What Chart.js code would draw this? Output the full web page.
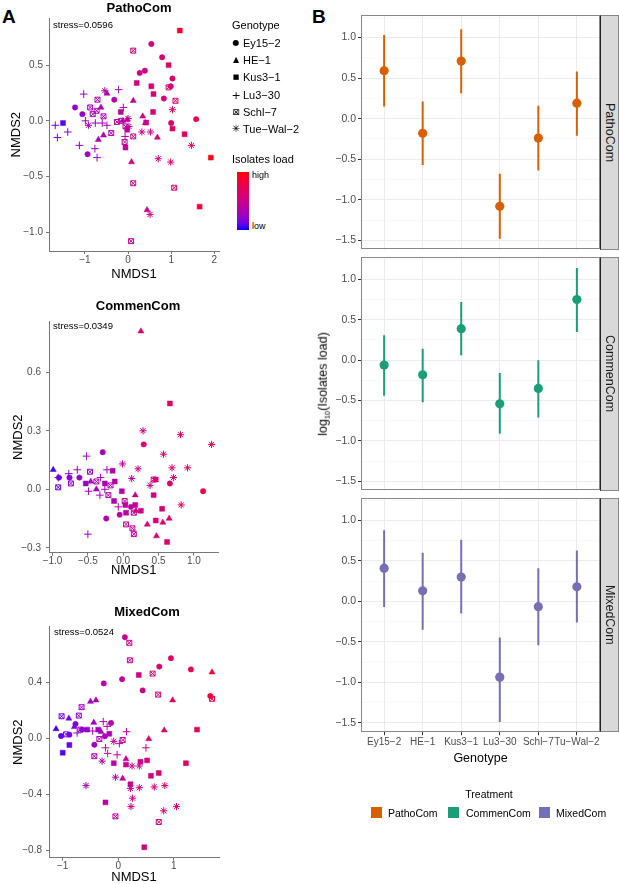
<!DOCTYPE html>
<html>
<head>
<meta charset="utf-8">
<script src="https://cdn.jsdelivr.net/npm/chart.js@4.4.1/dist/chart.umd.min.js"></script>
<style>
  body { margin: 0; background: #fff; }
  #page { position: relative; width: 619px; height: 884px; overflow: hidden; background: #fff;
          font-family: "Liberation Sans", Arial, sans-serif; color: #000; }
  canvas { position: absolute; }
  .t { position: absolute; white-space: nowrap; line-height: 1; }
  .c { transform: translate(-50%, -50%); }
  .l { transform: translateY(-50%); }
  .strip { position: absolute; left: 600px; width: 19px; box-sizing: border-box; background: #d9d9d9;
           border: 1px solid #888; border-left: 1px solid #222; writing-mode: vertical-rl;
           text-align: center; line-height: 17px; font-size: 12.5px; color: #1a1a1a; }
  .sym { position: absolute; transform: translate(-50%, -50%); line-height: 1; font-family: "DejaVu Sans", sans-serif; }
  .sw { position: absolute; width: 11px; height: 11px; }
</style>
</head>
<body>
<div id="page">
  <div class="t" style="left:2px;top:7px;font-size:19px;font-weight:bold">A</div>
  <div class="t" style="left:312px;top:7px;font-size:19px;font-weight:bold">B</div>

  <!-- panel A -->
  <canvas id="patho" width="230" height="290" style="left:0;top:0"></canvas>
  <canvas id="commen" width="230" height="300" style="left:0;top:290px"></canvas>
  <canvas id="mixed" width="230" height="300" style="left:0;top:590px"></canvas>

  <div class="t c" style="left:139px;top:7px;font-size:13px;font-weight:bold">PathoCom</div>
  <div class="t c" style="left:138px;top:305px;font-size:13px;font-weight:bold">CommenCom</div>
  <div class="t c" style="left:147px;top:611px;font-size:13px;font-weight:bold">MixedCom</div>

  <div class="t l" style="left:53px;top:25px;font-size:9.5px">stress=0.0596</div>
  <div class="t l" style="left:53px;top:326px;font-size:9.5px">stress=0.0349</div>
  <div class="t l" style="left:54px;top:632px;font-size:9.5px">stress=0.0524</div>

  <div class="t l" style="left:232px;top:25px;font-size:11px">Genotype</div>
  <div class="sym" style="left:236px;top:43px;font-size:8px">●</div>
  <div class="sym" style="left:236px;top:60px;font-size:8px">▲</div>
  <div class="sym" style="left:236px;top:77px;font-size:7px">■</div>
  <div class="sym" style="left:236px;top:95px;font-size:11px">+</div>
  <div class="sym" style="left:236px;top:112px;font-size:9px">⊠</div>
  <div class="sym" style="left:236px;top:129px;font-size:10px">✳</div>
  <div class="t l" style="left:243px;top:43px;font-size:11px">Ey15−2</div>
  <div class="t l" style="left:243px;top:60px;font-size:11px">HE−1</div>
  <div class="t l" style="left:243px;top:77px;font-size:11px">Kus3−1</div>
  <div class="t l" style="left:243px;top:95px;font-size:11px">Lu3−30</div>
  <div class="t l" style="left:243px;top:112px;font-size:11px">Schl−7</div>
  <div class="t l" style="left:243px;top:129px;font-size:11px">Tue−Wal−2</div>

  <div class="t l" style="left:232px;top:159px;font-size:11px">Isolates load</div>
  <div id="cbar" style="position:absolute;left:237px;top:172px;width:12px;height:58px"></div>
  <div class="t l" style="left:252px;top:175px;font-size:9px">high</div>
  <div class="t l" style="left:252px;top:226px;font-size:9px">low</div>

  <!-- panel B -->
  <canvas id="bPatho" width="299" height="251" style="left:320px;top:7px"></canvas>
  <canvas id="bCommen" width="299" height="250" style="left:320px;top:249px"></canvas>
  <canvas id="bMixed" width="299" height="278" style="left:320px;top:490px"></canvas>

  <div class="strip" style="top:15px;height:235px">PathoCom</div>
  <div class="strip" style="top:257px;height:234px">CommenCom</div>
  <div class="strip" style="top:498px;height:234px">MixedCom</div>

  <div class="t" style="left:322.5px;top:384px;transform:translate(-50%,-50%) rotate(-90deg);font-size:12.5px">log<span style="font-size:7.5px;position:relative;top:3px">10</span>(Isolates load)</div>

  <div class="t c" style="left:489px;top:794px;font-size:10.5px">Treatment</div>
  <div class="sw" style="left:371px;top:807px;background:#d95f02"></div>
  <div class="t l" style="left:388px;top:812.5px;font-size:10.5px">PathoCom</div>
  <div class="sw" style="left:448px;top:807px;background:#1b9e77"></div>
  <div class="t l" style="left:466px;top:812.5px;font-size:10.5px">CommenCom</div>
  <div class="sw" style="left:539px;top:807px;background:#7570b3"></div>
  <div class="t l" style="left:556px;top:812.5px;font-size:10.5px">MixedCom</div>
</div>

<script>
// ---- panel A data: [NMDS1, NMDS2, isolates load 0..1] ----
const pathoEy = [[0.54,0.69,0.55],[0.79,0.57,0.6],[0.27,0.43,0.5],[0.39,0.45,0.52],[1.03,0.38,0.62],[0.99,0.31,0.6],[0.83,0.20,0.6],[-0.32,0.19,0.35],[-1.23,0.12,0.22],[-1.06,0.06,0.25],[1.0,-0.02,0.62],[1.58,0.015,0.72],[-0.94,-0.30,0.28]];
const pathoHe = [[-0.49,0.245,0.33],[-0.63,0.12,0.32],[0.12,0.18,0.42],[0.34,0.04,0.48],[0.40,-0.02,0.48],[-0.12,0.0,0.38],[-0.02,0.01,0.38],[-0.57,-0.13,0.32],[-0.69,-0.17,0.3],[0.68,-0.15,0.55],[0.08,-0.37,0.5],[0.44,-0.80,0.5]];
const pathoKus = [[1.20,0.81,0.88],[0.94,0.50,0.68],[0.20,0.34,0.52],[0.54,0.31,0.58],[0.59,0.24,0.6],[0.58,0.08,0.6],[-0.17,0.08,0.42],[1.03,-0.07,0.68],[1.31,-0.12,0.7],[-0.06,-0.24,0.45],[1.92,-0.33,0.95],[1.66,-0.77,0.85],[-1.51,-0.02,0.08],[0.42,-0.015,0.52],[-0.02,-0.08,0.42]];
const pathoLu = [[-1.03,0.24,0.25],[-0.22,0.28,0.3],[-1.69,-0.04,0.12],[-1.64,-0.15,0.12],[-1.40,-0.10,0.16],[-1.13,-0.22,0.2],[-0.99,0.0,0.22],[-0.76,-0.02,0.25],[-0.60,-0.02,0.27],[-0.49,-0.04,0.28],[-0.11,0.12,0.32],[-0.77,-0.25,0.25],[-0.72,-0.33,0.25],[-0.07,-0.14,0.32]];
const pathoSchl = [[0.12,0.63,0.5],[-0.71,0.19,0.32],[-0.88,0.12,0.3],[-0.82,0.06,0.3],[-0.73,0.09,0.32],[-0.57,0.04,0.33],[-0.39,-0.11,0.35],[-0.26,-0.01,0.38],[-0.16,0.0,0.38],[-0.06,-0.05,0.4],[-0.08,-0.19,0.42],[0.12,-0.14,0.45],[1.10,0.18,0.65],[0.12,-0.56,0.5],[1.07,-0.60,0.6],[0.07,-1.08,0.5],[0.94,0.30,0.62]];
const pathoTue = [[-0.54,0.27,0.33],[-0.92,-0.04,0.28],[0.0,0.02,0.42],[0.02,-0.05,0.42],[0.32,-0.10,0.48],[0.52,-0.10,0.5],[1.03,0.10,0.62],[0.70,-0.34,0.55],[0.99,-0.37,0.6],[1.47,-0.22,0.7],[0.51,-0.84,0.52]];

const commEy = [[-0.29,0.19,0.3],[0.29,0.23,0.6],[-0.91,0.06,0.1],[-0.76,0.06,0.18],[-0.62,0.06,0.22],[0.66,0.03,0.62],[1.13,-0.01,0.78],[-0.24,-0.15,0.35],[-0.05,-0.13,0.38],[0.11,-0.09,0.42]];
const commHe = [[0.25,0.81,0.6],[-0.99,0.10,0.04],[-0.46,0.04,0.3],[-0.38,0.0,0.32],[0.17,-0.03,0.48],[0.18,-0.11,0.5],[0.34,-0.18,0.55],[0.65,-0.15,0.62],[0.56,-0.17,0.6],[0.47,-0.24,0.6]];
const commKus = [[0.66,0.44,0.68],[-0.15,0.095,0.35],[-0.12,0.04,0.36],[-0.53,0.03,0.25],[-0.26,0.03,0.32],[-0.02,-0.01,0.38],[-0.13,-0.06,0.36],[0.03,-0.08,0.42],[0.17,-0.08,0.46],[0.25,-0.11,0.5],[0.04,-0.12,0.42],[0.43,-0.03,0.55],[0.46,0.05,0.58],[0.55,-0.10,0.6],[0.46,-0.16,0.6],[0.62,-0.27,0.65]];
const commLu = [[-0.52,0.17,0.25],[-0.65,0.10,0.2],[-0.77,0.08,0.16],[-0.92,0.06,0.12],[-0.23,0.10,0.32],[-0.32,0.06,0.3],[-0.49,-0.01,0.25],[-0.33,-0.03,0.3],[-0.26,0.0,0.32],[-0.07,-0.09,0.38],[-0.50,-0.23,0.25]];
const commSchl = [[-0.92,0.01,0.1],[-0.74,0.03,0.16],[-0.47,0.09,0.25],[-0.38,0.04,0.3],[-0.18,0.02,0.34],[-0.21,-0.03,0.34],[0.02,-0.06,0.4],[0.15,-0.12,0.44],[0.04,-0.18,0.42],[0.13,-0.20,0.44],[0.15,-0.23,0.44],[0.43,0.05,0.56]];
const commTue = [[0.28,0.30,0.52],[0.81,0.28,0.66],[1.25,0.23,0.78],[0.57,0.18,0.6],[0.69,0.11,0.62],[0.91,0.11,0.68],[0.71,0.06,0.64],[-0.01,0.13,0.42],[0.21,0.105,0.48],[0.12,0.055,0.46],[0.38,0.02,0.52],[0.82,-0.08,0.66]];

const mixEy = [[0.12,0.72,0.45],[0.95,0.57,0.66],[0.74,0.51,0.6],[1.31,0.49,0.72],[0.07,0.42,0.45],[-0.26,0.39,0.38],[0.44,0.34,0.52],[1.66,0.30,0.82],[-1.03,0.014,0.08],[-0.88,0.024,0.12],[-0.77,0.10,0.16],[-0.13,0.107,0.33],[-0.24,0.012,0.32],[-0.43,-0.048,0.27],[-0.65,0.06,0.2]];
const mixHe = [[1.69,0.47,0.85],[0.98,0.27,0.68],[-0.50,0.26,0.27],[-0.40,0.27,0.3],[-1.12,0.064,0.04],[-0.89,0.14,0.12],[-0.79,0.08,0.16],[-0.44,0.11,0.25],[-0.31,0.045,0.3],[0.55,-0.007,0.58],[0.83,0.055,0.64],[0.14,-0.15,0.46],[0.08,-0.29,0.46]];
const mixKus = [[0.37,0.45,0.55],[1.42,0.06,0.76],[-1.0,-0.105,0.06],[-0.88,-0.05,0.1],[-0.56,0.06,0.23],[-0.36,0.06,0.27],[-0.16,0.03,0.33],[-0.08,-0.18,0.38],[0.14,-0.19,0.46],[0.40,-0.17,0.52],[0.52,-0.16,0.55],[0.59,-0.27,0.58],[0.73,-0.25,0.6],[1.22,-0.18,0.7],[0.22,-0.33,0.48],[-0.23,-0.46,0.38],[0.47,-0.78,0.55]];
const mixLu = [[-0.27,0.117,0.32],[-0.20,0.083,0.33],[-0.74,0.036,0.23],[-0.46,0.05,0.28],[0.15,0.045,0.44],[0.02,-0.04,0.42],[-0.23,-0.07,0.38],[-0.19,-0.11,0.38],[-0.02,-0.12,0.4],[0.50,-0.07,0.5]];
const mixSchl = [[0.20,0.68,0.48],[0.21,0.555,0.48],[0.62,0.46,0.55],[0.72,0.31,0.58],[1.69,0.28,0.82],[-0.66,0.22,0.25],[-1.02,0.155,0.12],[-0.94,0.026,0.15],[-0.71,0.16,0.23],[-0.68,0.06,0.25],[-0.34,-0.007,0.33],[-0.43,-0.13,0.32],[0.08,-0.014,0.42],[-0.05,-0.56,0.42],[0.73,-0.60,0.58]];
const mixTue = [[-0.08,-0.024,0.4],[-0.29,-0.165,0.35],[0.25,-0.2,0.48],[0.38,-0.2,0.5],[-0.58,-0.34,0.32],[-0.05,-0.28,0.42],[0.22,-0.36,0.48],[0.38,-0.355,0.5],[0.65,-0.35,0.55],[0.84,-0.34,0.58],[0.26,-0.43,0.48],[0.23,-0.49,0.48],[1.05,-0.49,0.62],[0.82,-0.52,0.58]];

// tick values and labels
const pathoXTicks = [-1, 0, 1, 2],        pathoXLabels = ['−1', '0', '1', '2'];
const pathoYTicks = [-1, -0.5, 0, 0.5],   pathoYLabels = ['−1.0', '−0.5', '0.0', '0.5'];
const commXTicks = [-1, -0.5, 0, 0.5, 1], commXLabels = ['−1.0', '−0.5', '0.0', '0.5', '1.0'];
const commYTicks = [-0.3, 0, 0.3, 0.6],   commYLabels = ['−0.3', '0.0', '0.3', '0.6'];
const mixXTicks = [-1, 0, 1],             mixXLabels = ['−1', '0', '1'];
const mixYTicks = [-0.8, -0.4, 0, 0.4],   mixYLabels = ['−0.8', '−0.4', '0.0', '0.4'];

// ---- panel B data ----
const genotypes = ['Ey15−2', 'HE−1', 'Kus3−1', 'Lu3−30', 'Schl−7', 'Tu−Wal−2'];
const pathoMean = [0.59, -0.18, 0.71, -1.08, -0.24, 0.19];
const pathoLow  = [0.15, -0.57, 0.31, -1.48, -0.64, -0.21];
const pathoHigh = [1.03, 0.21, 1.10, -0.68, 0.16, 0.58];
const commMean = [-0.06, -0.18, 0.39, -0.54, -0.35, 0.75];
const commLow  = [-0.44, -0.52, 0.06, -0.91, -0.71, 0.35];
const commHigh = [0.31, 0.14, 0.72, -0.16, 0.0, 1.14];
const mixMean = [0.41, 0.13, 0.30, -0.935, -0.065, 0.18];
const mixLow  = [-0.07, -0.35, -0.15, -1.49, -0.54, -0.26];
const mixHigh = [0.88, 0.60, 0.76, -0.445, 0.41, 0.63];
const bYTicks  = [-1.5, -1.25, -1, -0.75, -0.5, -0.25, 0, 0.25, 0.5, 0.75, 1, 1.25];
const bYLabels = ['−1.5', '', '−1.0', '', '−0.5', '', '0.0', '', '0.5', '', '1.0', ''];

const FONT = '"Liberation Sans", Arial, sans-serif';
Chart.defaults.font.family = FONT;

// blue -> red gradient interpolated in Lab, like ggplot's scale_colour_gradient
function loadColor(t, alpha) {
  const L = 32.30 + (53.24 - 32.30) * t, A = 79.19 + (80.09 - 79.19) * t, B = -107.86 + (67.20 + 107.86) * t;
  const fy = (L + 16) / 116, fx = fy + A / 500, fz = fy - B / 200;
  const f = v => v > 0.206893 ? v * v * v : (v - 16 / 116) / 7.787;
  const X = 0.95047 * f(fx), Y = f(fy), Z = 1.08883 * f(fz);
  const r = 3.2406 * X - 1.5372 * Y - 0.4986 * Z;
  const g = -0.9689 * X + 1.8758 * Y + 0.0415 * Z;
  const b = 0.0557 * X - 0.2040 * Y + 1.0570 * Z;
  const gam = v => { v = Math.min(1, Math.max(0, v)); return Math.round(255 * (v <= 0.0031308 ? 12.92 * v : 1.055 * Math.pow(v, 1 / 2.4) - 0.055)); };
  return `rgba(${gam(r)},${gam(g)},${gam(b)},${alpha})`;
}

document.getElementById('cbar').style.background =
  'linear-gradient(to top,' + [0, 0.1, 0.2, 0.3, 0.4, 0.5, 0.6, 0.7, 0.8, 0.9, 1].map(t => loadColor(t, 1)).join(',') + ')';

function pointSet(pts, style, radius, filled) {
  const cols = pts.map(p => loadColor(p[2], 1));
  return {
    data: pts.map(p => ({ x: p[0], y: p[1] })),
    pointStyle: style,
    pointRadius: radius,
    backgroundColor: filled ? cols : 'rgba(0,0,0,0)',
    borderColor: cols,
    borderWidth: filled ? 0.5 : 1
  };
}

function axisA(min, max, ticks, labels, title, fit, tickPad) {
  return {
    type: 'linear', min: min, max: max,
    afterBuildTicks: s => { s.ticks = ticks.map(v => ({ value: v })); },
    afterFit: fit,
    ticks: { callback: (v, i) => labels[i], color: '#4d4d4d', font: { size: 10 }, padding: tickPad, maxRotation: 0, autoSkip: false },
    grid: { drawOnChartArea: false, drawTicks: true, tickLength: 3, tickColor: '#777' },
    border: { display: true, color: '#777', width: 1 },
    title: { display: true, text: title, color: '#000', font: { size: 13 }, padding: 0 }
  };
}

function nmdsChart(id, groups, g) {
  new Chart(document.getElementById(id), {
    type: 'scatter',
    data: {
      datasets: [
        pointSet(groups[0], 'circle', 2.7, true),
        pointSet(groups[1], 'triangle', 3.5, true),
        pointSet(groups[2], 'rect', 3.5, true),
        pointSet(groups[3], 'cross', 3.8, false),
        pointSet(groups[4], 'rect', 3.5, false),
        pointSet(groups[4], 'crossRot', 3.5, false),
        pointSet(groups[5], 'star', 3.6, false)
      ]
    },
    options: {
      responsive: false, animation: false, devicePixelRatio: 1, events: [],
      layout: { padding: g.pad },
      plugins: { legend: { display: false }, tooltip: { enabled: false } },
      scales: {
        x: axisA(g.x[0], g.x[1], g.xTicks, g.xLabels, 'NMDS1', s => { s.height = g.xh; }, g.xPad),
        y: axisA(g.y[0], g.y[1], g.yTicks, g.yLabels, 'NMDS2', s => { s.width = g.yw; }, g.yPad)
      }
    }
  });
}

nmdsChart('patho', [pathoEy, pathoHe, pathoKus, pathoLu, pathoSchl, pathoTue], {
  x: [-1.835, 2.11], y: [-1.168, 0.92],
  xTicks: pathoXTicks, xLabels: pathoXLabels, yTicks: pathoYTicks, yLabels: pathoYLabels,
  pad: { left: 8.2, right: 11, top: 18.3, bottom: 8.2 }, xh: 30.8, yw: 40.8, xPad: 0, yPad: 3
});
nmdsChart('commen', [commEy, commHe, commKus, commLu, commSchl, commTue], {
  x: [-1.05, 1.345], y: [-0.325, 0.859],
  xTicks: commXTicks, xLabels: commXLabels, yTicks: commYTicks, yLabels: commYLabels,
  pad: { left: 10.2, right: 11.7, top: 31.7, bottom: 11.9 }, xh: 25.4, yw: 38.8, xPad: 0, yPad: 5
});
nmdsChart('mixed', [mixEy, mixHe, mixKus, mixLu, mixSchl, mixTue], {
  x: [-1.247, 1.816], y: [-0.855, 0.795],
  xTicks: mixXTicks, xLabels: mixXLabels, yTicks: mixYTicks, yLabels: mixYLabels,
  pad: { left: 10.2, right: 11, top: 36.7, bottom: 4.9 }, xh: 27.4, yw: 38.8, xPad: 0, yPad: 4
});

// ---- panel B ----
const panelBox = {
  id: 'panelBox',
  afterDraw(chart) {
    const a = chart.chartArea, ctx = chart.ctx;
    ctx.save();
    ctx.strokeStyle = '#888';
    ctx.lineWidth = 1;
    ctx.strokeRect(Math.round(a.left) + 0.5, Math.round(a.top) + 0.5, Math.round(a.right - a.left) - 1, Math.round(a.bottom - a.top) - 1);
    ctx.restore();
  }
};

function effectChart(id, means, lows, highs, color, bottom) {
  const bars = [];
  means.forEach((m, i) => { bars.push({ x: i + 1, y: lows[i] }, { x: i + 1, y: highs[i] }, { x: i + 1, y: null }); });
  new Chart(document.getElementById(id), {
    type: 'scatter',
    data: {
      datasets: [
        { data: means.map((m, i) => ({ x: i + 1, y: m })), pointRadius: 4.6, pointStyle: 'circle',
          backgroundColor: color, borderColor: color, borderWidth: 0 },
        { data: bars, showLine: true, spanGaps: false, pointRadius: 0, borderColor: color, borderWidth: 2 }
      ]
    },
    options: {
      responsive: false, animation: false, devicePixelRatio: 1, events: [],
      layout: { padding: { left: 0, right: 19, top: 8, bottom: bottom ? 2 : 8 } },
      plugins: { legend: { display: false }, tooltip: { enabled: false } },
      scales: {
        x: {
          type: 'linear', min: 0.4, max: 6.6,
          afterBuildTicks: s => { s.ticks = genotypes.map((g, i) => ({ value: i + 1 })); },
          afterFit: s => { s.height = bottom ? 33.8 : 0; },
          ticks: { display: bottom, callback: (v, i) => genotypes[i], color: '#4d4d4d', font: { size: 10 }, padding: 1, maxRotation: 0, autoSkip: false },
          grid: { color: '#ebebeb', lineWidth: 1, drawTicks: bottom, tickLength: 3, tickColor: '#333' },
          border: { display: false },
          title: { display: bottom, text: 'Genotype', color: '#000', font: { size: 12.5 }, padding: 0 }
        },
        y: {
          type: 'linear', min: -1.615, max: 1.273,
          afterBuildTicks: s => { s.ticks = bYTicks.map(v => ({ value: v })); },
          afterFit: s => { s.width = 41; },
          ticks: { callback: (v, i) => bYLabels[i], color: '#4d4d4d', font: { size: 10.5 }, padding: 2, autoSkip: false },
          grid: {
            color: c => bYLabels[c.index] ? '#ebebeb' : '#f3f3f3',
            lineWidth: c => bYLabels[c.index] ? 1 : 0.6,
            tickLength: 3,
            tickColor: c => bYLabels[c.index] ? '#333' : 'rgba(0,0,0,0)'
          },
          border: { display: false }
        }
      }
    },
    plugins: [panelBox]
  });
}

effectChart('bPatho', pathoMean, pathoLow, pathoHigh, '#d95f02', false);
effectChart('bCommen', commMean, commLow, commHigh, '#1b9e77', false);
effectChart('bMixed', mixMean, mixLow, mixHigh, '#7570b3', true);
</script>
</body>
</html>
